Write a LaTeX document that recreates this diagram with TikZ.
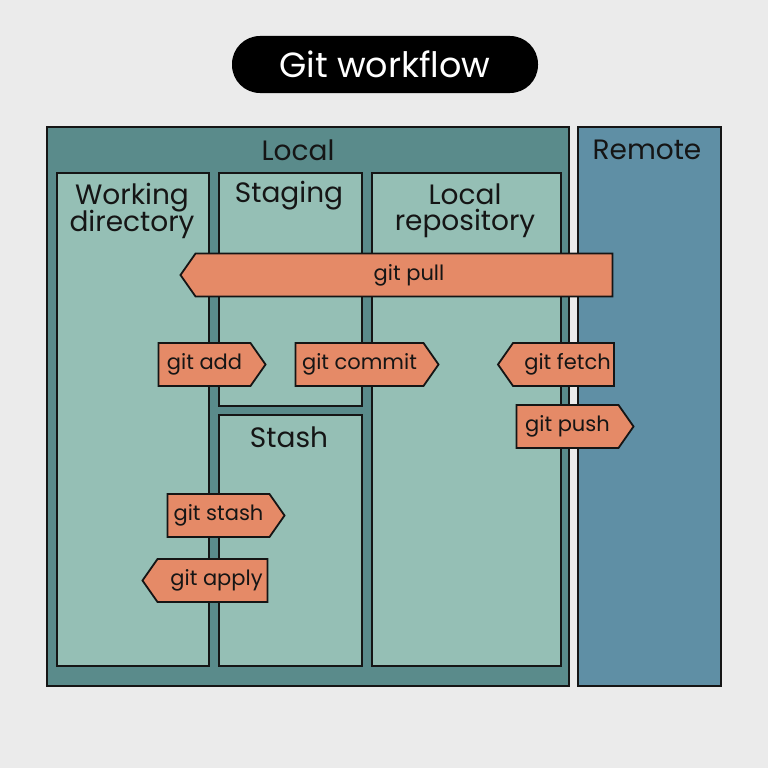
\documentclass[tikz,border=0pt]{standalone}
\usepackage{fontspec}
\setmainfont{Poppins}
\usetikzlibrary{shapes.symbols}
\definecolor{bgc}{HTML}{EBEBEB}
\definecolor{localc}{HTML}{5A8B8B}
\definecolor{innerc}{HTML}{95BFB5}
\definecolor{remotec}{HTML}{5F8FA5}
\definecolor{cmdc}{HTML}{E58A67}
\definecolor{inkc}{HTML}{151515}
\tikzset{
  areabox/.style={draw=inkc, line width=2pt, anchor=north west, inner sep=0pt},
  lbl/.style={text=inkc, font=\fontsize{28}{28}\selectfont, align=center, inner sep=0pt},
  cmd/.style={draw=inkc, fill=cmdc, line width=1.8pt, signal, signal pointer angle=110,
    minimum height=43pt, inner sep=0pt, text=inkc, font=\fontsize{21}{21}\selectfont},
  cmdr/.style={cmd, signal to=east},
  cmdl/.style={cmd, signal to=west},
}
\begin{document}
\begin{tikzpicture}[x=1pt,y=-1pt]
\fill[bgc] (0,0) rectangle (768,768);
\useasboundingbox (0,0) rectangle (768,768);
% title
\node[fill=black, rounded corners=28pt, minimum width=306pt, minimum height=57pt, text=white,
  font=\fontsize{35}{35}\selectfont, inner sep=0pt] (title) at (385,64.5) {Git workflow};
% areas
\node[areabox, fill=localc, minimum width=522pt, minimum height=559pt] (local) at (46,126) {};
\node[areabox, fill=remotec, minimum width=143pt, minimum height=559pt] (remote) at (577,126) {};
\node[areabox, fill=innerc, minimum width=152pt, minimum height=493pt] (wd) at (56,172) {};
\node[areabox, fill=innerc, minimum width=143pt, minimum height=233pt] (stage) at (218,172) {};
\node[areabox, fill=innerc, minimum width=143pt, minimum height=251pt] (stash) at (218,414) {};
\node[areabox, fill=innerc, minimum width=189pt, minimum height=493pt] (repo) at (371,172) {};
% labels
\node[lbl] (llocal) at (298,150) {Local};
\node[lbl] (lremote) at (647,150) {Remote};
\node[lbl] (lwd) at (132,211) {Working\\[-2pt]directory};
\node[lbl] (lstage) at (289,196) {Staging};
\node[lbl] (lrepo) at (465,211) {Local\\[-2pt]repository};
\node[lbl] (lstash) at (289,437) {Stash};
% commands
\node[cmdl, minimum width=432pt] (pull) at (404,275) {\hspace{10pt}git pull};
\node[cmdr, minimum width=107pt] (add) at (204.5,364.5) {git add\hspace{6pt}};
\node[cmdr, minimum width=143pt] (commit) at (359.5,364.5) {git commit\hspace{6pt}};
\node[cmdl, minimum width=116pt] (fetch) at (563.5,364.5) {\hspace{8pt}git fetch};
\node[cmdr, minimum width=117pt] (push) at (567.5,426.5) {git push\hspace{6pt}};
\node[cmdr, minimum width=117pt] (stashc) at (218.5,515.5) {git stash\hspace{6pt}};
\node[cmdl, minimum width=125pt] (apply) at (212.5,580.5) {\hspace{8pt}git apply};
\end{tikzpicture}
\end{document}
